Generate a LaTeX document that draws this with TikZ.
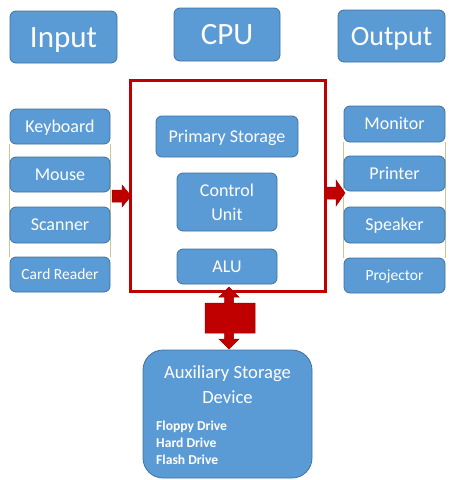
\documentclass[tikz,border=0pt]{standalone}
\usepackage{fontspec}
\setmainfont{Carlito}
\usetikzlibrary{backgrounds}
\definecolor{boxfill}{HTML}{5B9BD5}
\definecolor{boxline}{HTML}{41719C}
\definecolor{cpured}{HTML}{C00000}
\definecolor{arrline}{HTML}{9A0000}
\definecolor{olive}{HTML}{C8C896}
\tikzset{
  box/.style={draw=boxline, line width=0.8pt, fill=boxfill, rounded corners=6pt,
    text=white, inner sep=0pt, align=center},
  fbig/.style={font=\fontsize{31}{36}\selectfont, text height=20pt, text depth=0pt},
  fout/.style={font=\fontsize{28}{33}\selectfont, text height=18pt, text depth=0pt},
  fmid/.style={font=\fontsize{18}{24}\selectfont, text height=11.6pt, text depth=0pt},
  fsmall/.style={font=\fontsize{15.5}{19}\selectfont, text height=10pt, text depth=0pt},
  colbox/.style={box, minimum width=100pt, minimum height=35pt},
  outbox/.style={box, minimum width=101pt, minimum height=35pt},
  bigarrow/.style={fill=cpured, draw=arrline, line width=0.5pt, line join=miter},
  link/.style={draw=olive, line width=0.8pt},
  listtxt/.style={text=white, font=\bfseries\fontsize{13.6}{17}\selectfont, anchor=base west, inner sep=0pt}
}
\begin{document}
\begin{tikzpicture}[x=1pt, y=-1pt]
\useasboundingbox (0,0) rectangle (451,480);
% headers
\node[box, fbig, minimum width=107pt, minimum height=52pt] (input) at (63.5,37) {Input};
\node[box, fbig, minimum width=106pt, minimum height=53pt] (cpu) at (227,34.5) {CPU};
\node[box, fout, minimum width=107pt, minimum height=52pt] (output) at (391.5,36) {Output};
% input column
\node[colbox, fmid] (kb) at (60,126.5) {Keyboard};
\node[colbox, fmid] (mouse) at (60,174.5) {Mouse};
\node[colbox, fmid, minimum height=36pt] (scan) at (60,225) {Scanner};
\node[colbox, fsmall] (card) at (60,274.5) {Card Reader};
% output column
\node[outbox, fmid, minimum height=36pt] (mon) at (394.5,124) {Monitor};
\node[outbox, fmid] (prn) at (394.5,173.5) {Printer};
\node[outbox, fmid, minimum height=36pt] (spk) at (394.5,225) {Speaker};
\node[outbox, fsmall] (proj) at (394.5,275.5) {Projector};
% CPU frame
\node[draw=cpured, line width=3pt, minimum width=195pt, minimum height=211pt, inner sep=0pt] (frame) at (227.5,185.5) {};
\node[box, fmid, minimum width=142pt, minimum height=41pt] (prim) at (227,136.5) {Primary Storage};
\node[box, font=\fontsize{18}{24}\selectfont, minimum width=100pt, minimum height=58pt] (cu) at (227,202) {Control\\Unit};
\node[box, fmid, minimum width=100pt, minimum height=35pt] (alu) at (227,266.5) {ALU};
% auxiliary storage
\node[box, rounded corners=20pt, minimum width=169pt, minimum height=128pt] (aux) at (227.5,414) {};
\node[text=white, font=\fontsize{18.6}{24}\selectfont, anchor=base, inner sep=0pt] (auxt1) at (227.5,378) {Auxiliary Storage};
\node[text=white, font=\fontsize{18.6}{24}\selectfont, anchor=base, inner sep=0pt] (auxt2) at (227.5,403) {Device};
\node[listtxt] (fd) at (156,430) {Floppy Drive};
\node[listtxt] (hd) at (156,447) {Hard Drive};
\node[listtxt] (sd) at (156,464) {Flash Drive};
% thin links between column boxes
\begin{scope}[on background layer]
\draw[link] (kb.south west) -- (card.north west);
\draw[link] (kb.south east) -- (card.north east);
\draw[link] (mon.south west) -- (proj.north west);
\draw[link] (mon.south east) -- (proj.north east);
\end{scope}
% arrows
\draw[bigarrow] (112,190) -- (122,190) -- (122,185) -- (131,196) -- (122,207) -- (122,202) -- (112,202) -- cycle;
\draw[bigarrow] (326,187) -- (336,187) -- (336,180) -- (345,193) -- (336,206) -- (336,199) -- (326,199) -- cycle;
\draw[bigarrow] (229,287) -- (239,297) -- (233.5,297) -- (233.5,303) -- (255,303) -- (255,333) -- (233.5,333) -- (233.5,339) -- (239,339) -- (229,349) -- (219,339) -- (224.5,339) -- (224.5,333) -- (205,333) -- (205,303) -- (224.5,303) -- (224.5,297) -- (219,297) -- cycle;
\end{tikzpicture}
\end{document}
